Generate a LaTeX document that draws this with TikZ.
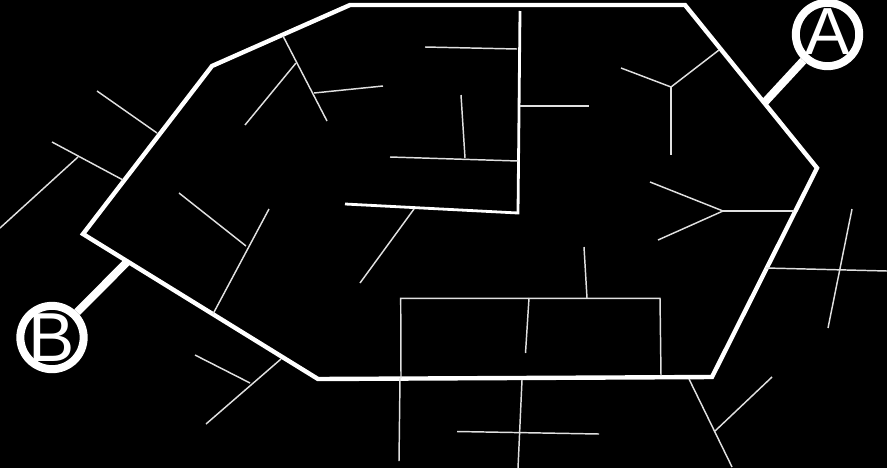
\documentclass[tikz,border=0pt]{standalone}
\usepackage{fontspec}
\setmainfont{Liberation Sans}
\tikzset{
  x=0.75pt,y=-0.75pt,
  wall/.style={draw=white,line width=3.3pt,line join=miter},
  inner wall/.style={draw=white,line width=2.1pt},
  twig/.style={draw=white!88!black,line width=1.1pt},
  lead/.style={draw=white,line width=6pt},
  port/.style={circle,draw=white,line width=6pt,fill=black,text=white,minimum size=47.5pt,inner sep=0pt}
}
\begin{document}
\begin{tikzpicture}
\useasboundingbox[fill=black] (0,0) rectangle (887,468);
\coordinate (a0) at (765,102);
\coordinate (b0) at (127,262);
\node[port,font=\fontsize{50}{50}\selectfont] (A) at (827.5,34.5) {\raisebox{-14.7pt}[0pt][0pt]{\makebox[0pt]{A}}};
\node[port,font=\fontsize{52}{52}\selectfont] (B) at (52,337.5) {\raisebox{-17.9pt}[0pt][0pt]{\makebox[0pt]{B}}};
\draw[lead] (a0) -- (A);
\draw[lead] (b0) -- (B);
\draw[wall] (350,5) -- (685,5) -- (817,168) -- (712,377) -- (318,379) -- (83,234) -- (212,66) -- cycle;
\draw[inner wall] (520,11) -- (518,213) -- (345,204);
% outside, upper left
\draw[twig] (97,91) -- (157,133);
\draw[twig] (52,142) -- (123,180);
\draw[twig] (78,157) -- (0,228);
% outside, right
\draw[twig] (766,268) -- (887,271);
\draw[twig] (852,209) -- (828,328);
% outside, bottom
\draw[twig] (689,379) -- (732,467);
\draw[twig] (772,377) -- (715,431);
\draw[twig] (522,380) -- (518,468);
\draw[twig] (457,431.5) -- (599,434);
\draw[twig] (400,378) -- (399,461);
\draw[twig] (281,359) -- (206,424);
\draw[twig] (195,355) -- (250,383);
% inside, upper left
\draw[twig] (283,36) -- (327,121);
\draw[twig] (296,63) -- (245,125);
\draw[twig] (314,93) -- (383,86);
\draw[twig] (179,193) -- (246,246);
\draw[twig] (269,209) -- (213,314);
% inside, centre
\draw[twig] (425,47) -- (517,49);
\draw[twig] (461,95) -- (465,158);
\draw[twig] (390,157) -- (518,161);
\draw[twig] (520,106) -- (589,106);
\draw[twig] (414,209) -- (360,283);
% inside, right
\draw[twig] (719,50) -- (671,87);
\draw[twig] (621,68) -- (671,87);
\draw[twig] (671,87) -- (671,155);
\draw[twig] (794,211) -- (723,211);
\draw[twig] (650,182) -- (723,211);
\draw[twig] (723,211) -- (658,240);
% inside, bottom box
\draw[twig] (401,378) -- (400.7,298.3) -- (660,298.3) -- (661,376);
\draw[twig] (584,247) -- (587,298);
\draw[twig] (529,298) -- (525.5,353);
\end{tikzpicture}
\end{document}
